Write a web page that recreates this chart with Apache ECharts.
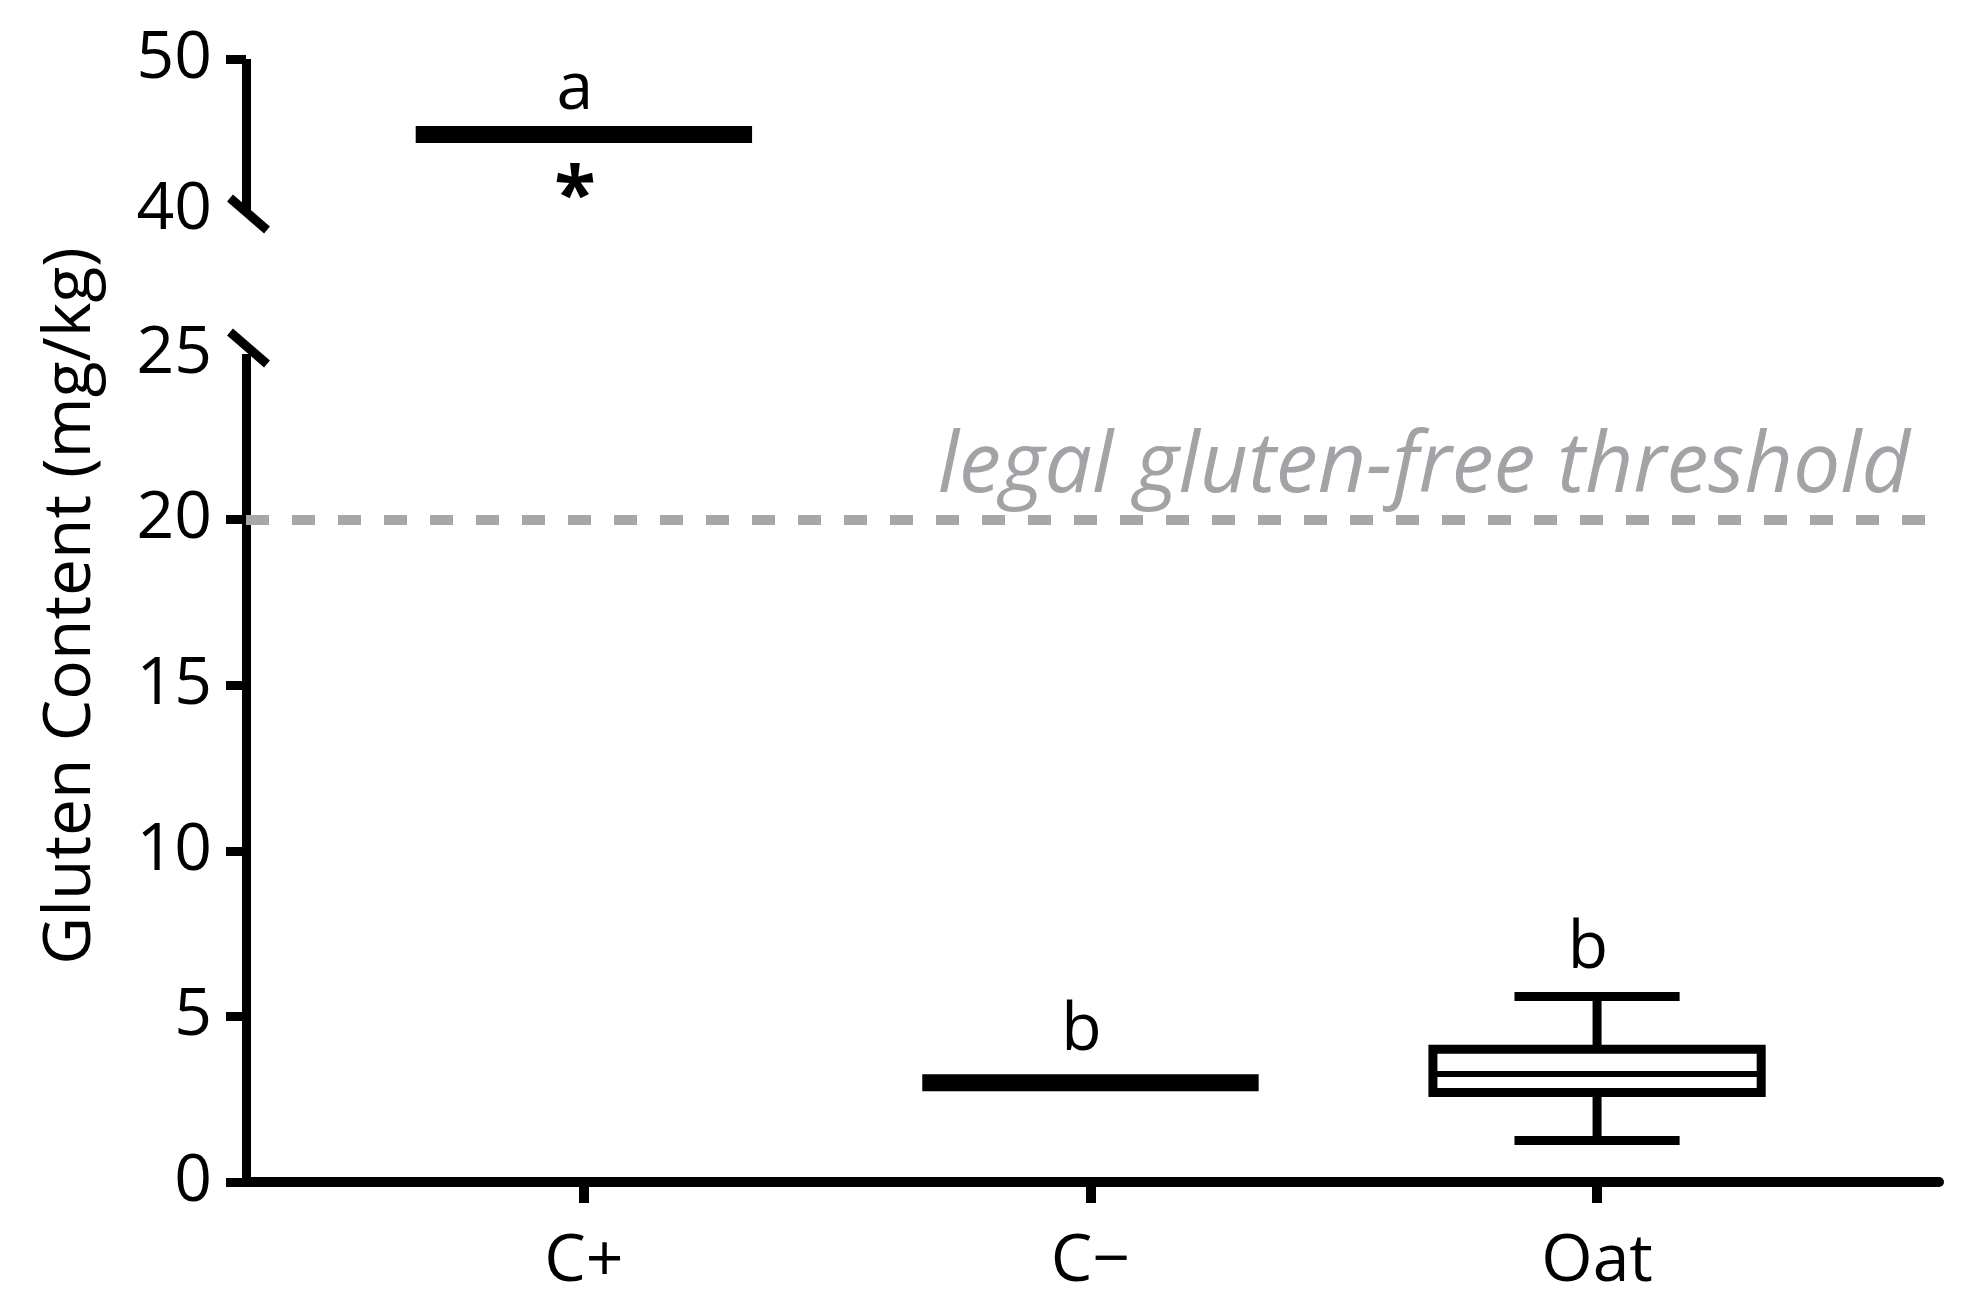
<!DOCTYPE html>
<html><head><meta charset="utf-8">
<script src="https://cdn.jsdelivr.net/npm/echarts@6/dist/echarts.min.js"></script>
<style>html,body{margin:0;padding:0;background:#fff;} #c{width:1970px;height:1304px;}</style>
</head><body><div id="c"></div>
<script>
// ---- data ----
const categories = ['C+', 'C\u2212', 'Oat'];
const sigLetters = ['a', 'b', 'b'];
const cPlusValue = 45.0;     // C+ (all replicates equal)
const cMinusValue = 3.0;     // C− (all replicates equal)
const oatBox = [1.25, 2.70, 3.26, 4.01, 5.60]; // min, Q1, median, Q3, max
const threshold = 20;
const thresholdLabel = 'legal gluten-free threshold';
const topRange = [40, 50];
const bottomRange = [0, 25];
const bottomTickValues = [0, 5, 10, 15, 20];
const topTickValues = [50];
const catTickValues = [0, 1, 2];
const yTitle = 'Gluten Content (mg/kg)';

// ---- style constants ----
const FONT = 'Open Sans';
const XMIN = -0.667, XMAX = 2.675;
const BAR_HW = 0.332, BOX_HW = 0.324, CAP_HW = 0.163;
const LABEL_DX = -9;

const chart = echarts.init(document.getElementById('c'), null, {renderer: 'canvas'});

function letter(text, x, y, va) {
  return {type: 'text', x: x, y: y, style: {text: text, fontFamily: FONT, fontSize: 66, fill: '#000', align: 'center', verticalAlign: va || 'bottom'}};
}

function renderSingle(params, api) {
  const ci = api.value(0), v = api.value(1);
  const p0 = api.coord([ci - BAR_HW, v]);
  const p1 = api.coord([ci + BAR_HW, v]);
  const children = [
    {type: 'rect', shape: {x: p0[0], y: p0[1] - 8.5, width: p1[0] - p0[0], height: 17}, style: {fill: '#000'}}
  ];
  const c = api.coord([ci, v]);
  if (ci === 0) {
    children.push(letter(sigLetters[ci], c[0] + LABEL_DX, c[1] - 11));
    children.push({type: 'text', x: c[0] + LABEL_DX, y: c[1] + 64, style: {text: '*', fontFamily: FONT, fontWeight: 'bold', fontSize: 76, fill: '#000', align: 'center', verticalAlign: 'middle'}});
  } else {
    children.push(letter(sigLetters[ci], c[0] + LABEL_DX, c[1] - 18));
  }
  return {type: 'group', children: children};
}

function renderBox(params, api) {
  const ci = api.value(0);
  const mn = api.value(1), q1 = api.value(2), md = api.value(3), q3 = api.value(4), mx = api.value(5);
  const tl = api.coord([ci - BOX_HW, q3]);
  const br = api.coord([ci + BOX_HW, q1]);
  const pMd0 = api.coord([ci - BOX_HW, md]), pMd1 = api.coord([ci + BOX_HW, md]);
  const pQ3 = api.coord([ci, q3]), pMx = api.coord([ci, mx]);
  const pQ1 = api.coord([ci, q1]), pMn = api.coord([ci, mn]);
  const cMx0 = api.coord([ci - CAP_HW, mx]), cMx1 = api.coord([ci + CAP_HW, mx]);
  const cMn0 = api.coord([ci - CAP_HW, mn]), cMn1 = api.coord([ci + CAP_HW, mn]);
  const ls = {stroke: '#000', lineWidth: 9, lineCap: 'butt'};
  return {type: 'group', children: [
    {type: 'line', shape: {x1: pQ3[0], y1: pQ3[1], x2: pMx[0], y2: pMx[1]}, style: ls},
    {type: 'line', shape: {x1: pQ1[0], y1: pQ1[1], x2: pMn[0], y2: pMn[1]}, style: ls},
    {type: 'line', shape: {x1: cMx0[0], y1: cMx0[1], x2: cMx1[0], y2: cMx1[1]}, style: ls},
    {type: 'line', shape: {x1: cMn0[0], y1: cMn0[1], x2: cMn1[0], y2: cMn1[1]}, style: ls},
    {type: 'rect', shape: {x: tl[0], y: tl[1], width: br[0] - tl[0], height: br[1] - tl[1]}, style: {fill: '#fff', stroke: '#000', lineWidth: 9}},
    {type: 'line', shape: {x1: pMd0[0], y1: pMd0[1], x2: pMd1[0], y2: pMd1[1]}, style: {stroke: '#000', lineWidth: 6}},
    letter(sigLetters[ci], pMx[0] + LABEL_DX, pMx[1] - 14)
  ]};
}

function renderBreak(params, api) {
  const p = api.coord([api.value(0), api.value(1)]);
  const dy = api.value(2);
  return {type: 'line', shape: {x1: p[0] - 16, y1: p[1] - 16 + dy, x2: p[0] + 21, y2: p[1] + 16 + dy}, style: {stroke: '#000', lineWidth: 9, lineCap: 'butt'}};
}

const yLabel = {fontFamily: FONT, fontSize: 66, color: '#000', margin: 34};
const axisLineStyle = {color: '#000', width: 9, cap: 'butt'};

const option = {
  animation: false,
  backgroundColor: '#fff',
  grid: [
    {left: 246, right: 31, top: 59, height: 151},
    {left: 246, right: 31, top: 354, height: 828}
  ],
  xAxis: [
    {gridIndex: 0, type: 'value', min: XMIN, max: XMAX, show: false, splitLine: {show: false}},
    {gridIndex: 1, type: 'value', min: XMIN, max: XMAX,
      axisLine: {show: true, onZero: false, lineStyle: {color: '#000', width: 10}},
      axisTick: {show: true, customValues: catTickValues, length: 21, lineStyle: {color: '#000', width: 10}},
      axisLabel: {customValues: catTickValues, formatter: v => categories[Math.round(v)], fontFamily: FONT, fontSize: 66, color: '#000', margin: 47},
      splitLine: {show: false}}
  ],
  yAxis: [
    {gridIndex: 0, type: 'value', min: topRange[0], max: topRange[1], interval: 10,
      axisLine: {show: true, onZero: false, lineStyle: axisLineStyle},
      axisTick: {show: true, customValues: topTickValues, length: 20, lineStyle: {color: '#000', width: 9}},
      axisLabel: yLabel, splitLine: {show: false}},
    {gridIndex: 1, type: 'value', min: bottomRange[0], max: bottomRange[1], interval: 5,
      axisLine: {show: true, onZero: false, lineStyle: axisLineStyle},
      axisTick: {show: true, customValues: bottomTickValues, length: 20, lineStyle: {color: '#000', width: 9}},
      axisLabel: yLabel, splitLine: {show: false}}
  ],
  graphic: [
    {type: 'text', x: 71, y: 606, rotation: Math.PI / 2,
      style: {text: yTitle, fontFamily: FONT, fontSize: 66, fill: '#000', align: 'center', verticalAlign: 'middle'}}
  ],
  series: [
    {type: 'custom', xAxisIndex: 0, yAxisIndex: 0, clip: false, renderItem: renderSingle, data: [[0, cPlusValue]]},
    {type: 'custom', xAxisIndex: 1, yAxisIndex: 1, clip: false, renderItem: renderSingle, data: [[1, cMinusValue]],
      markLine: {silent: true, symbol: ['none', 'none'], data: [{yAxis: threshold}],
        lineStyle: {type: [23, 23], width: 10, color: '#a7a7a9', cap: 'butt'},
        label: {show: true, position: 'insideEndTop', formatter: thresholdLabel, fontFamily: FONT, fontStyle: 'italic', fontSize: 84, color: '#a3a3a7', distance: [29, 10]}}},
    {type: 'custom', xAxisIndex: 1, yAxisIndex: 1, clip: false, renderItem: renderBox, data: [[2].concat(oatBox)]},
    {type: 'custom', xAxisIndex: 0, yAxisIndex: 0, clip: false, renderItem: renderBreak, data: [[XMIN, topRange[0], 4]]},
    {type: 'custom', xAxisIndex: 1, yAxisIndex: 1, clip: false, renderItem: renderBreak, data: [[XMIN, bottomRange[1], -6]]}
  ]
};
chart.setOption(option);
</script>
</body></html>
